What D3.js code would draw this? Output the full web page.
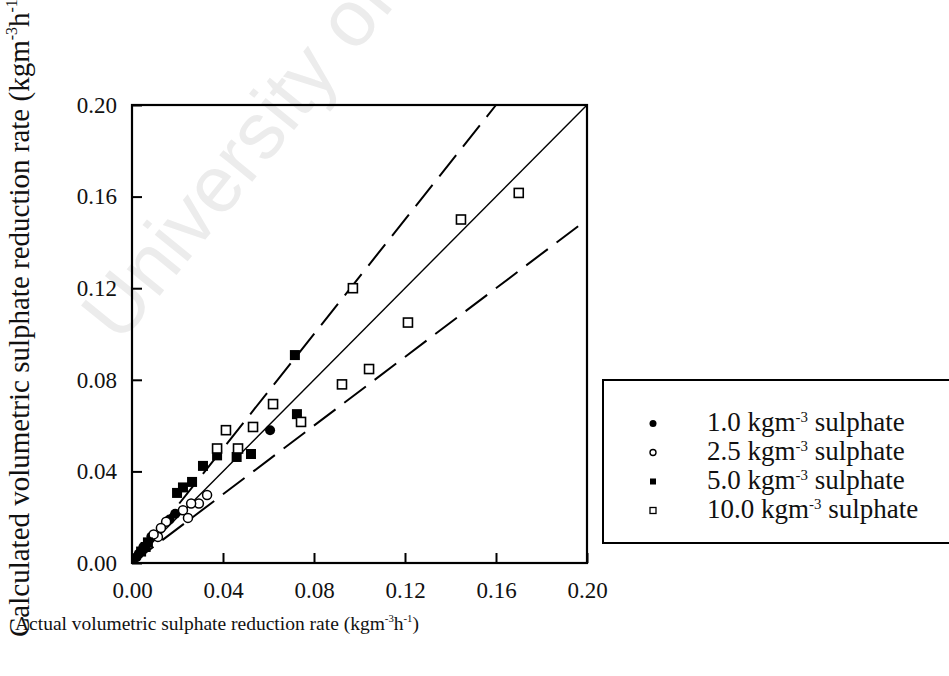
<!DOCTYPE html>
<html><head><meta charset="utf-8">
<script src="https://cdn.jsdelivr.net/npm/d3@7"></script>
<style>html,body{margin:0;padding:0;background:#fff;}svg{display:block;}</style>
</head><body>
<script>
// ---- data ----
const ticks = [0.00, 0.04, 0.08, 0.12, 0.16, 0.20];
const s1_0 = [[0.0607,0.058],[0.019,0.0215],[0.0165,0.019],[0.0085,0.0115],[0.005,0.007],[0.003,0.004],[0.002,0.0025],[0.0045,0.0055]];
const s2_5 = [[0.033,0.0297],[0.0294,0.026],[0.026,0.026],[0.0224,0.023],[0.0246,0.0197],[0.015,0.018],[0.0127,0.0153],[0.0114,0.0114],[0.0095,0.0125]];
const s5_0 = [[0.0716,0.0908],[0.0725,0.065],[0.0523,0.0476],[0.046,0.0463],[0.0374,0.047],[0.0312,0.0424],[0.0264,0.0354],[0.0224,0.033],[0.0198,0.0306],[0.006,0.007],[0.004,0.005],[0.007,0.009]];
const s10_0 = [[0.0374,0.050],[0.0413,0.058],[0.0466,0.050],[0.0532,0.0594],[0.062,0.0694],[0.0743,0.0616],[0.0923,0.078],[0.0971,0.120],[0.1042,0.0847],[0.1213,0.105],[0.1446,0.150],[0.170,0.1616]];
const lineParity = [[0,0],[0.2,0.2]];
const lineUpper = [[0,0],[0.16,0.2]];
const lineLower = [[0,0],[0.2,0.15]];
const legendLabels = ["1.0","2.5","5.0","10.0"];

const W = 949, H = 676;
const svg = d3.select("body").append("svg").attr("width", W).attr("height", H);
const serif = "'Liberation Serif','DejaVu Serif',serif";

// watermark
svg.append("text").attr("transform","translate(120,345) rotate(-51)")
  .attr("font-family","'Liberation Sans',Arial,sans-serif").attr("font-size",80)
  .attr("fill","#ececec").text("University of Cape Town");

const x = d3.scaleLinear().domain([0,0.2]).range([132,587]);
const y = d3.scaleLinear().domain([0,0.2]).range([563,105]);

// axes
const xAxis = d3.axisBottom(x).tickValues(ticks).tickFormat(d3.format(".2f")).tickSize(-10).tickPadding(19);
const yAxis = d3.axisLeft(y).tickValues(ticks).tickFormat(d3.format(".2f")).tickSize(-10).tickPadding(15);
const gx = svg.append("g").attr("transform",`translate(0,${y(0)})`).call(xAxis);
const gy = svg.append("g").attr("transform",`translate(${x(0)},0)`).call(yAxis);
[gx,gy].forEach(g=>{
  g.select(".domain").remove();
  g.selectAll(".tick line").attr("stroke","#000").attr("stroke-width",2);
  g.selectAll(".tick text").attr("font-family",serif).attr("font-size",23).attr("fill","#111");
});
gx.selectAll(".tick text").attr("dy","0.71em");
// frame
svg.append("rect").attr("x",x(0)).attr("y",y(0.2)).attr("width",x(0.2)-x(0)).attr("height",y(0)-y(0.2))
  .attr("fill","none").attr("stroke","#000").attr("stroke-width",2.2);

// lines
const line = d3.line().x(d=>x(d[0])).y(d=>y(d[1]));
svg.append("path").attr("d",line(lineParity)).attr("stroke","#000").attr("stroke-width",1.4).attr("fill","none");
[lineUpper,lineLower].forEach(l=>{
  svg.append("path").attr("d",line(l)).attr("stroke","#000").attr("stroke-width",2).attr("fill","none").attr("stroke-dasharray","27,11");
});

// points
const g = svg.append("g");
g.selectAll(".c1").data(s1_0).join("circle").attr("cx",d=>x(d[0])).attr("cy",d=>y(d[1])).attr("r",5).attr("fill","#000");
g.selectAll(".c2").data(s2_5).join("circle").attr("cx",d=>x(d[0])).attr("cy",d=>y(d[1])).attr("r",4.5).attr("fill","#fff").attr("stroke","#000").attr("stroke-width",1.5);
g.selectAll(".s1").data(s5_0).join("rect").attr("x",d=>x(d[0])-5).attr("y",d=>y(d[1])-5).attr("width",10).attr("height",10).attr("fill","#000");
g.selectAll(".s2").data(s10_0).join("rect").attr("x",d=>x(d[0])-4.5).attr("y",d=>y(d[1])-4.5).attr("width",9).attr("height",9).attr("fill","#fff").attr("stroke","#000").attr("stroke-width",1.6);

// text with superscripts
function supText(sel, fs, parts, rise){
  let raised = false;
  parts.forEach(p=>{
    const t = sel.append("tspan").text(p.t);
    if(p.sup){ t.attr("font-size",fs*0.55).attr("dy",-fs*rise); raised = true; }
    else if(raised){ t.attr("dy",fs*rise); raised = false; }
  });
}
const xfs = 19.5;
const xt = svg.append("text").attr("x",15).attr("y",630).attr("font-family",serif).attr("font-size",xfs).attr("fill","#111");
supText(xt,xfs,[{t:"Actual volumetric sulphate reduction rate (kgm"},{t:"-3",sup:1},{t:"h"},{t:"-1",sup:1},{t:")"}],0.42);
const yfs = 29;
const yt = svg.append("text").attr("transform","translate(29,637) rotate(-90)").attr("font-family",serif).attr("font-size",yfs).attr("fill","#111");
supText(yt,yfs,[{t:"Calculated volumetric sulphate reduction rate (kgm"},{t:"-3",sup:1},{t:"h"},{t:"-1",sup:1},{t:")"}],0.42);

// legend
svg.append("rect").attr("x",603).attr("y",380).attr("width",360).attr("height",163).attr("fill","#fff").attr("stroke","#000").attr("stroke-width",2);
const ly = d3.scaleBand().domain(legendLabels).range([409,525]);
const lfs = 27;
legendLabels.forEach((lab,i)=>{
  const cy = ly(lab)+ly.bandwidth()/2, cx = 653;
  if(i===0) svg.append("circle").attr("cx",cx).attr("cy",cy).attr("r",3.5).attr("fill","#000");
  if(i===1) svg.append("circle").attr("cx",cx).attr("cy",cy).attr("r",3).attr("fill","#fff").attr("stroke","#000").attr("stroke-width",1.4);
  if(i===2) svg.append("rect").attr("x",cx-3).attr("y",cy-3).attr("width",6).attr("height",6).attr("fill","#000");
  if(i===3) svg.append("rect").attr("x",cx-3).attr("y",cy-3).attr("width",6).attr("height",6).attr("fill","#fff").attr("stroke","#000").attr("stroke-width",1.3);
  const t = svg.append("text").attr("x",707).attr("y",cy+7).attr("font-family",serif).attr("font-size",lfs).attr("fill","#111");
  supText(t,lfs,[{t:lab+" kgm"},{t:"-3",sup:1},{t:" sulphate"}],0.33);
});
</script>
</body></html>
